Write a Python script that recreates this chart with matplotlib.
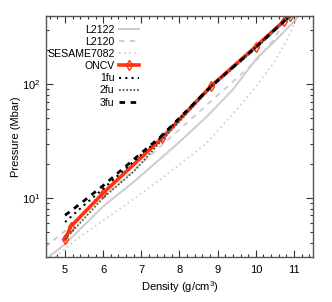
import matplotlib
matplotlib.use("Agg")
import matplotlib.pyplot as plt
from matplotlib.ticker import LogLocator, MultipleLocator, NullFormatter

plt.rcParams['font.family'] = ['Liberation Sans', 'DejaVu Sans']
plt.rcParams['mathtext.fontset'] = 'custom'
plt.rcParams['mathtext.rm'] = 'Liberation Sans'
plt.rcParams['mathtext.it'] = 'Liberation Sans'

# ---- data (density g/cm3, pressure Mbar) ----
l2122_rho = [4.6, 5.0, 6.0, 6.8, 8.0, 8.72, 9.4, 10.04, 10.5, 11.0, 11.12]
l2122_p   = [3.05, 3.9, 8.4, 13.8, 31, 52, 90, 172, 240, 358, 400]

l2120_rho = [4.47, 5.0, 5.5, 6.0, 7.0, 8.0, 9.0, 10.0, 10.47, 10.83]
l2120_p   = [3.66, 5.1, 7.3, 10.2, 20, 40, 80, 160, 247, 400]

sesame_rho = [4.75, 5.3, 6.0, 6.7, 7.5, 8.7, 9.5, 10.0, 10.5, 10.8, 11.1]
sesame_p   = [3.0, 4.3, 6.3, 9.2, 14.5, 30, 60, 95, 160, 240, 400]

oncv_rho = [5.0, 5.15, 6.0, 7.53, 8.83, 10.0, 10.75, 10.9]
oncv_p   = [4.3, 5.57, 11.0, 33.3, 96.6, 215, 365, 400]

fu1_rho = [5.0, 5.5, 6.0, 6.5, 7.0, 7.5, 8.83, 10.0, 10.75, 10.9]
fu1_p   = [6.1, 8.6, 12.0, 17.0, 24.0, 33.8, 96, 212, 362, 400]

fu2_rho = [5.0, 6.0, 6.8, 7.5, 8.83, 10.0, 10.75, 10.92]
fu2_p   = [4.3, 10.0, 17.0, 31.0, 94, 207, 357, 400]

fu3_rho = [5.0, 5.5, 6.0, 6.5, 7.0, 7.5, 8.83, 10.0, 10.75, 10.9]
fu3_p   = [7.0, 9.4, 12.8, 17.8, 24.8, 34.3, 96, 212, 362, 400]

fig = plt.figure(figsize=(3.32, 3.02), dpi=100)
ax = fig.add_axes([46/332, 45/302, 267/332, 241/302])

lg = '#cccccc'
ax.plot(l2122_rho, l2122_p, color=lg, lw=1.4, ls='-', label='L2122')
ax.plot(l2120_rho, l2120_p, color=lg, lw=1.3, ls=(0, (3, 3)), label='L2120')
ax.plot(sesame_rho, sesame_p, color=lg, lw=1.2, ls=(0, (1, 2)), label='SESAME7082')
ax.plot(oncv_rho, oncv_p, color='#ff3311', lw=2.6, marker='d', ms=5,
        mfc='none', mec='#ff3311', mew=1.0, label='ONCV')
ax.plot(fu1_rho, fu1_p, color='black', lw=1.5, ls=(0, (1, 2)), label='1fu')
ax.plot(fu2_rho, fu2_p, color='#555555', lw=1.3, ls=(0, (1, 1)), label='2fu')
ax.plot(fu3_rho, fu3_p, color='black', lw=2.0, ls=(0, (2, 2)), label='3fu')

ax.set_yscale('log')
ax.set_xlim(4.5, 11.5)
ax.set_ylim(3, 400)
ax.xaxis.set_major_locator(MultipleLocator(1))
ax.xaxis.set_minor_locator(MultipleLocator(0.2))
ax.yaxis.set_major_locator(LogLocator(base=10))
ax.yaxis.set_minor_locator(LogLocator(base=10, subs=range(2, 10)))
ax.yaxis.set_minor_formatter(NullFormatter())

ax.tick_params(which='both', direction='in', top=True, right=True,
               colors='#333333', labelcolor='black', labelsize=8)
ax.tick_params(which='major', length=5, width=0.8)
ax.tick_params(which='minor', length=2.5, width=0.8)
ax.tick_params(axis='x', which='major', pad=6)
ax.tick_params(axis='y', which='major', pad=4)
for s in ax.spines.values():
    s.set_color('#555555')
    s.set_linewidth(1.0)

ax.set_xlabel('Density (g/cm$^3$)', fontsize=8, labelpad=3)
ax.set_ylabel('Pressure (Mbar)', fontsize=8, labelpad=1)

ax.legend(loc='upper right', bbox_to_anchor=(0.355, 0.972), frameon=False,
          fontsize=7.6, markerfirst=False, handlelength=1.9, handletextpad=0.4,
          labelspacing=0.2, borderaxespad=0, borderpad=0.2)

fig.savefig('out.png', dpi=100)
